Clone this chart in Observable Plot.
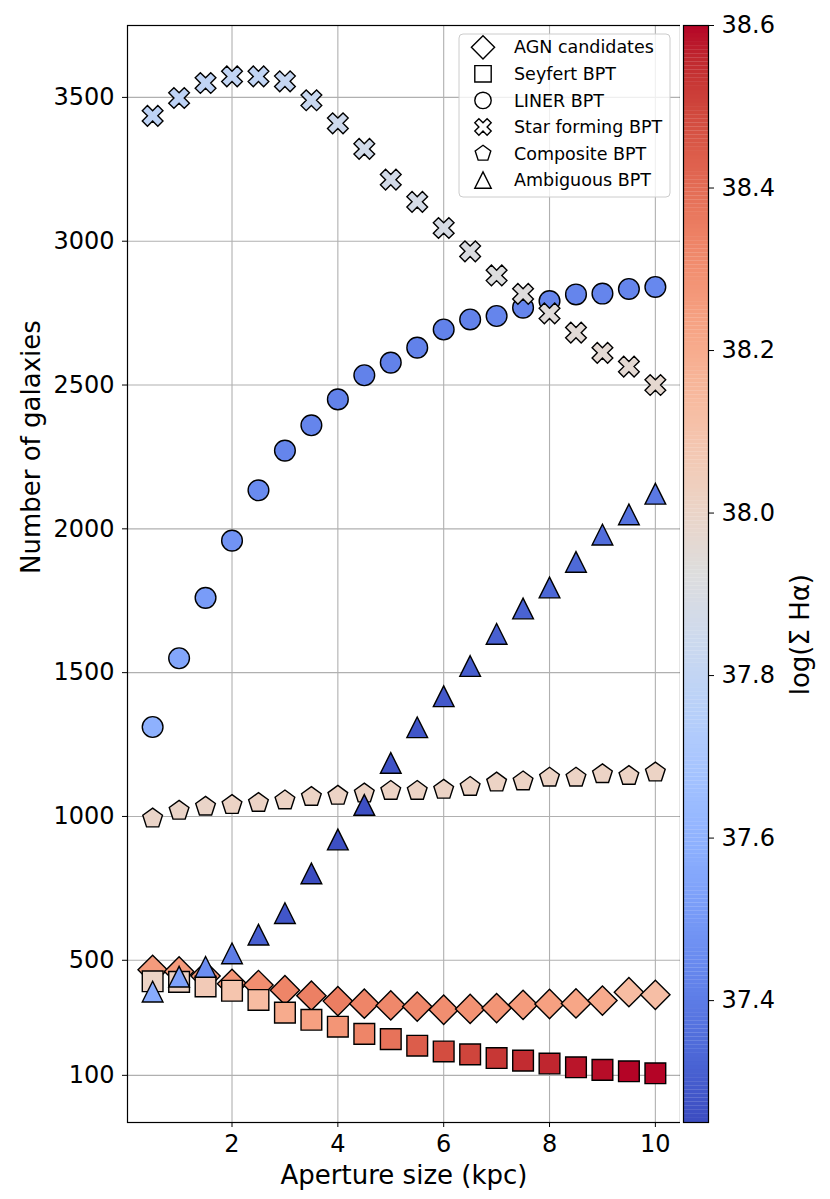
<!DOCTYPE html>
<html><head><meta charset="utf-8">
<script src="https://cdn.jsdelivr.net/npm/d3@7"></script>
<script src="https://cdn.jsdelivr.net/npm/@observablehq/plot@0.6"></script>
<style>
html,body{margin:0;padding:0;background:#fff;}
#wrap{position:relative;width:830px;height:1199px;font-family:"DejaVu Sans",sans-serif;}
#wrap > *{position:absolute;top:0;}
</style></head><body><div id="wrap"></div>
<script>
// ---- data ----
const aperture = [0.5,1,1.5,2,2.5,3,3.5,4,4.5,5,5.5,6,6.5,7,7.5,8,8.5,9,9.5,10];

const agnCount = [467,461,445,418,414,396,377,358,349,343,339,328,331,334,345,348,350,360,389,380];
const agnColor = [38.26,38.26,38.27,38.28,38.30,38.33,38.345,38.35,38.33,38.32,38.32,38.30,38.29,38.28,38.26,38.24,38.22,38.20,38.13,38.12];

const seyCount = [427,425,409,394,362,318,293,269,244,226,203,183,173,160,151,141,128,119,114,107];
const seyColor = [38.01,38.02,38.06,38.09,38.13,38.20,38.24,38.28,38.33,38.38,38.44,38.48,38.50,38.53,38.55,38.56,38.58,38.59,38.6,38.6];

const linCount = [1311,1550,1760,1959,2134,2272,2360,2450,2534,2578,2630,2693,2728,2740,2769,2792,2815,2818,2834,2841];
const linColor = [37.59,37.55,37.51,37.48,37.45,37.43,37.43,37.42,37.42,37.42,37.42,37.42,37.42,37.43,37.43,37.43,37.43,37.43,37.43,37.44];

const sfCount = [3436,3498,3550,3573,3573,3556,3490,3410,3321,3214,3137,3046,2965,2881,2817,2749,2682,2612,2564,2500];
const sfColor = [37.78,37.78,37.79,37.80,37.80,37.81,37.83,37.85,37.86,37.87,37.88,37.89,37.91,37.92,37.93,37.94,37.95,37.96,37.96,37.97];

const compCount = [993,1020,1034,1040,1047,1056,1068,1072,1080,1089,1089,1093,1103,1118,1122,1135,1135,1147,1141,1153];
const compColor = [38.0,38.0,38.0,38.01,38.01,38.01,38.01,38.01,38.01,38.01,38.01,38.01,38.01,38.01,38.01,38.01,38.01,38.01,38.01,38.01];

const ambCount = [391,443,477,524,589,664,802,920,1040,1186,1310,1418,1523,1635,1723,1796,1885,1980,2050,2122];
const ambColor = [37.57,37.53,37.46,37.40,37.31,37.28,37.25,37.26,37.26,37.27,37.28,37.29,37.30,37.31,37.32,37.33,37.34,37.35,37.37,37.39];

const seriesNames = ["AGN candidates","Seyfert BPT","LINER BPT","Star forming BPT","Composite BPT","Ambiguous BPT"];

const xTicks = [2,4,6,8,10];
const yTicks = [100,500,1000,1500,2000,2500,3000,3500];
const cbTicks = [37.4,37.6,37.8,38.0,38.2,38.4,38.6];
const colorDomain = [37.25, 38.6];

// matplotlib "coolwarm"
const coolwarmStops = [
 [59,76,192],[68,90,204],[77,104,215],[87,117,225],[98,130,234],[108,142,241],[119,154,247],[130,165,251],
 [141,176,254],[152,185,255],[163,194,255],[174,201,253],[184,208,249],[194,213,244],[204,217,238],[213,219,230],
 [221,221,221],[229,216,209],[236,211,197],[241,204,185],[245,196,173],[247,187,160],[247,177,148],[247,166,135],
 [244,154,123],[241,141,111],[236,127,99],[229,112,88],[222,96,77],[213,80,66],[203,62,56],[192,40,47],[180,4,38]
].map(([r,g,b]) => `rgb(${r},${g},${b})`);
const pw = d3.piecewise(d3.interpolateRgb, coolwarmStops);
const coolwarm = (t) => pw(Math.max(0, Math.min(1, t)));

// ---- marker shapes (matplotlib-like) ----
function sym(fn){ return {draw(ctx, size){ const r = Math.sqrt(size/Math.PI); fn(ctx, r); }}; }
const symbols = [
  sym((c,r)=>{const d=r*Math.SQRT2; c.moveTo(0,-d); c.lineTo(d,0); c.lineTo(0,d); c.lineTo(-d,0); c.closePath();}),
  sym((c,r)=>{c.moveTo(-r,-r); c.lineTo(r,-r); c.lineTo(r,r); c.lineTo(-r,r); c.closePath();}),
  sym((c,r)=>{c.moveTo(r,0); c.arc(0,0,r,0,2*Math.PI); c.closePath();}),
  sym((c,r)=>{const pts=[[-1,-2],[0,-1],[1,-2],[2,-1],[1,0],[2,1],[1,2],[0,1],[-1,2],[-2,1],[-1,0],[-2,-1]]; const k=r/2;
      pts.forEach(([a,b],i)=> i ? c.lineTo(a*k,b*k) : c.moveTo(a*k,b*k)); c.closePath();}),
  sym((c,r)=>{for(let i=0;i<5;i++){const a=-Math.PI/2+i*2*Math.PI/5; const px=r*Math.cos(a), py=r*Math.sin(a); i? c.lineTo(px,py): c.moveTo(px,py);} c.closePath();}),
  sym((c,r)=>{c.moveTo(0,-r); c.lineTo(r,r); c.lineTo(-r,r); c.closePath();})
];

const counts = [agnCount, seyCount, linCount, sfCount, compCount, ambCount];
const colors = [agnColor, seyColor, linColor, sfColor, compColor, ambColor];
const tables = counts.map((cnt, s) => aperture.map((a, i) => ({a, n: cnt[i], c: colors[s][i]})));

const colorScale = {type: "linear", domain: colorDomain, interpolate: (t) => coolwarm(t), clamp: true};
const font = {fontFamily: "'DejaVu Sans', sans-serif", fontSize: "24px", background: "white", overflow: "visible", color: "black"};

const R = 10.35;
const main = Plot.plot({
  width: 680, height: 1199,
  marginLeft: 127, marginRight: 0, marginTop: 25, marginBottom: 77,
  style: font,
  x: {domain: [0.025, 10.475]},
  y: {domain: [-64, 3750]},
  color: colorScale,
  marks: [
    Plot.gridX({ticks: xTicks, stroke: "#b0b0b0", strokeOpacity: 1, strokeWidth: 1.1}),
    Plot.gridY({ticks: yTicks, stroke: "#b0b0b0", strokeOpacity: 1, strokeWidth: 1.1}),
    Plot.axisX({ticks: xTicks, tickFormat: d => String(d), tickSize: 5, tickPadding: 7, label: null}),
    Plot.axisY({ticks: yTicks, tickFormat: d => String(d), tickSize: 5, tickPadding: 8, label: null}),
    ...tables.map((t, s) => Plot.dot(t, {x: "a", y: "n", fill: "c", symbol: symbols[s], r: R, stroke: "black", strokeWidth: 1.4})),
    Plot.frame({stroke: "black", strokeWidth: 1.2}),
    Plot.text(["Aperture size (kpc)"], {frameAnchor: "bottom", dy: 61, fontSize: 26}),
    Plot.text(["Number of galaxies"], {frameAnchor: "left", rotate: -90, dx: -96, fontSize: 26})
  ]
});
main.style.left = "0px";
document.getElementById("wrap").appendChild(main);

// ---- colorbar ----
const nCells = 270;
const step = (colorDomain[1] - colorDomain[0]) / nCells;
const cells = d3.range(nCells).map(i => colorDomain[0] + i * step);
const cbar = Plot.plot({
  width: 150, height: 1199,
  marginLeft: 3, marginRight: 122, marginTop: 25, marginBottom: 77,
  style: font,
  x: {domain: [0, 1], axis: null},
  y: {domain: colorDomain},
  color: colorScale,
  marks: [
    Plot.rect(cells, {x1: () => 0, x2: () => 1, y1: d => d, y2: d => Math.min(colorDomain[1], d + step * 1.05), fill: d => d + step / 2}),
    Plot.frame({stroke: "black", strokeWidth: 1.2}),
    Plot.axisY({anchor: "right", ticks: cbTicks, tickFormat: d => d.toFixed(1), tickSize: 5, tickPadding: 8, label: null}),
    Plot.text(["log(Σ Hα)"], {frameAnchor: "right", rotate: -90, dx: 92, fontSize: 26})
  ]
});
cbar.style.left = "680px";
document.getElementById("wrap").appendChild(cbar);

// ---- legend ----
const leg = d3.select("#wrap").append("svg")
  .attr("width", 214).attr("height", 166)
  .style("left", "458px").style("top", "33px");
leg.append("rect").attr("x", 1).attr("y", 1).attr("width", 211).attr("height", 163).attr("rx", 4)
  .attr("fill", "white").attr("fill-opacity", 0.8).attr("stroke", "#cccccc").attr("stroke-width", 1);
seriesNames.forEach((name, i) => {
  const y = 14.3 + i * 26.55;
  leg.append("path").attr("d", d3.symbol(symbols[i], Math.PI * 8.2 * 8.2)())
    .attr("transform", `translate(25,${y})`)
    .attr("fill", "white").attr("stroke", "black").attr("stroke-width", 1.4);
  leg.append("text").attr("x", 56).attr("y", y).attr("dy", "0.35em")
    .attr("font-family", "'DejaVu Sans', sans-serif").attr("font-size", 17.5).attr("fill", "black").text(name);
});
</script></body></html>
